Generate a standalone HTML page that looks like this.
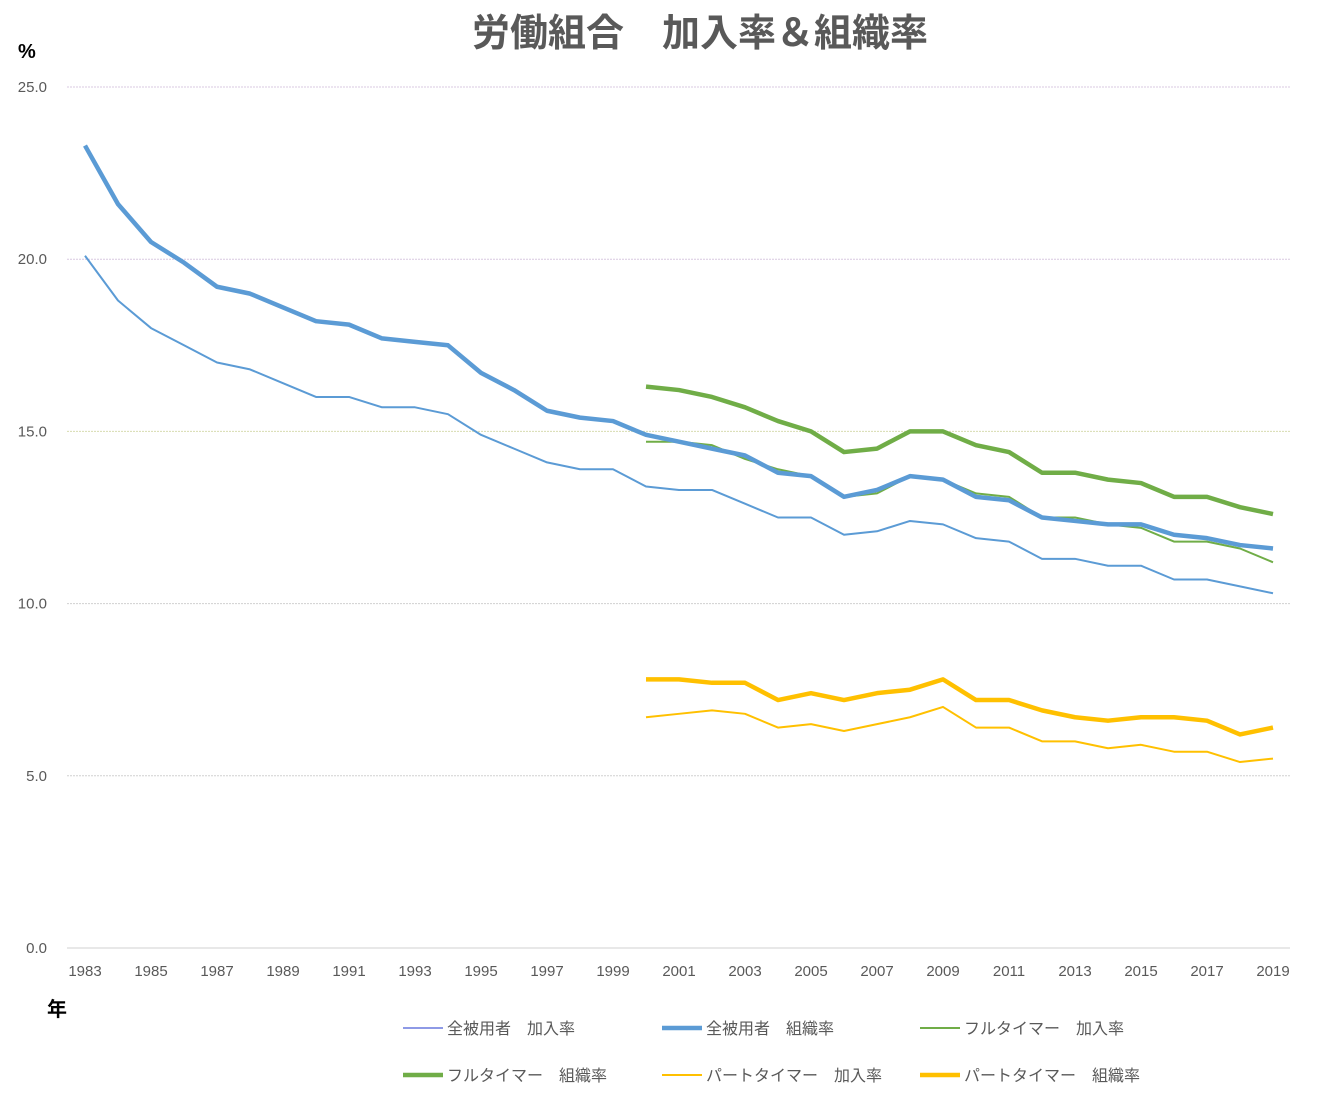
<!DOCTYPE html>
<html><head><meta charset="utf-8"><style>
body{margin:0;background:#fff;}
svg text{font-family:"Liberation Sans","Noto Sans CJK JP",sans-serif;}
</style></head><body>
<svg id="chart" width="1325" height="1105" xmlns="http://www.w3.org/2000/svg">
<text x="700" y="46" text-anchor="middle" font-size="38" font-weight="bold" fill="#595959">労働組合　加入率＆組織率</text>
<text x="18" y="58" font-size="20" font-weight="bold" fill="#000">%</text>
<text x="47" y="1016" font-size="20" font-weight="bold" fill="#000">年</text>
<g id="grid"></g>
<g id="xt"></g>
<g id="series"></g>
<g id="legend"></g>
</svg>
<script>
const years=[];for(let y=1983;y<=2019;y++)years.push(y);
const yTicks=[0,5,10,15,20,25];
const allMember=[20.1,18.8,18.0,17.5,17.0,16.8,16.4,16.0,16.0,15.7,15.7,15.5,14.9,14.5,14.1,13.9,13.9,13.4,13.3,13.3,12.9,12.5,12.5,12.0,12.1,12.4,12.3,11.9,11.8,11.3,11.3,11.1,11.1,10.7,10.7,10.5,10.3];
const allRep=[23.3,21.6,20.5,19.9,19.2,19.0,18.6,18.2,18.1,17.7,17.6,17.5,16.7,16.2,15.6,15.4,15.3,14.9,14.7,14.5,14.3,13.8,13.7,13.1,13.3,13.7,13.6,13.1,13.0,12.5,12.4,12.3,12.3,12.0,11.9,11.7,11.6];
const ftMember=[14.7,14.7,14.6,14.2,13.9,13.7,13.1,13.2,13.7,13.6,13.2,13.1,12.5,12.5,12.3,12.2,11.8,11.8,11.6,11.2];
const ftRep=[16.3,16.2,16.0,15.7,15.3,15.0,14.4,14.5,15.0,15.0,14.6,14.4,13.8,13.8,13.6,13.5,13.1,13.1,12.8,12.6];
const ptMember=[6.7,6.8,6.9,6.8,6.4,6.5,6.3,6.5,6.7,7.0,6.4,6.4,6.0,6.0,5.8,5.9,5.7,5.7,5.4,5.5];
const ptRep=[7.8,7.8,7.7,7.7,7.2,7.4,7.2,7.4,7.5,7.8,7.2,7.2,6.9,6.7,6.6,6.7,6.7,6.6,6.2,6.4];
const NS="http://www.w3.org/2000/svg";
const X=yr=>85+(yr-1983)*33, Y=v=>948-v*(861/25);
function mk(t,a,p){const e=document.createElementNS(NS,t);for(const k in a)e.setAttribute(k,a[k]);p.appendChild(e);return e;}
const grid=document.getElementById('grid');
const gcol={0:'#d0d0d0',5:'#d0d0d0',10:'#d0d0d0',15:'#d8dcb0',20:'#d8c8e0',25:'#d8c8e0'};
yTicks.forEach(v=>{
 const l=mk('line',{x1:67,x2:1290,y1:Y(v),y2:Y(v),stroke:gcol[v],'stroke-width':1,'stroke-dasharray':v===0?'':'2,1'},grid);
 
 
 const t=mk('text',{x:47,y:Y(v)+5,'text-anchor':'end','font-size':15,fill:'#595959'},grid);t.textContent=v.toFixed(1);
 
 
});
const xt=document.getElementById('xt');
years.filter(y=>(y-1983)%2===0).forEach(y=>{
 const t=mk('text',{x:X(y),y:976,'text-anchor':'middle','font-size':15,fill:'#595959'},xt);t.textContent=y;
 
 
});
const S=document.getElementById('series');
function line(vals,start,color,w,name){
 const pts=vals.map((v,i)=>X(start+i)+','+Y(v)).join(' ');
 const p=mk('polyline',{points:pts,fill:'none',stroke:color,'stroke-width':w,'stroke-linejoin':'round'},S);
 
 
}
line(allMember,1983,'#5b9bd5',2,'line-all-membership');
line(ftMember,2000,'#70ad47',2,'line-fulltime-membership');
line(ptMember,2000,'#ffc000',2,'line-parttime-membership');
line(ftRep,2000,'#70ad47',4.5,'line-fulltime-representation');
line(allRep,1983,'#5b9bd5',4.5,'line-all-representation');
line(ptRep,2000,'#ffc000',4.5,'line-parttime-representation');
const L=document.getElementById('legend');
const leg=[["全被用者　加入率",'#8e9ae6',2,403,1028],["全被用者　組織率",'#5b9bd5',4.5,662,1028],["フルタイマー　加入率",'#70ad47',2,920,1028],["フルタイマー　組織率",'#70ad47',4.5,403,1075],["パートタイマー　加入率",'#ffc000',2,662,1075],["パートタイマー　組織率",'#ffc000',4.5,920,1075]];
leg.forEach(d=>{
 const g=mk('g',{},L);
 
 
 mk('line',{x1:d[3],x2:d[3]+40,y1:d[4],y2:d[4],stroke:d[1],'stroke-width':d[2]},g);
 const t=mk('text',{x:d[3]+44,y:d[4]+6,'font-size':16,fill:'#595959'},g);t.textContent=d[0];
});
</script>
</body></html>
